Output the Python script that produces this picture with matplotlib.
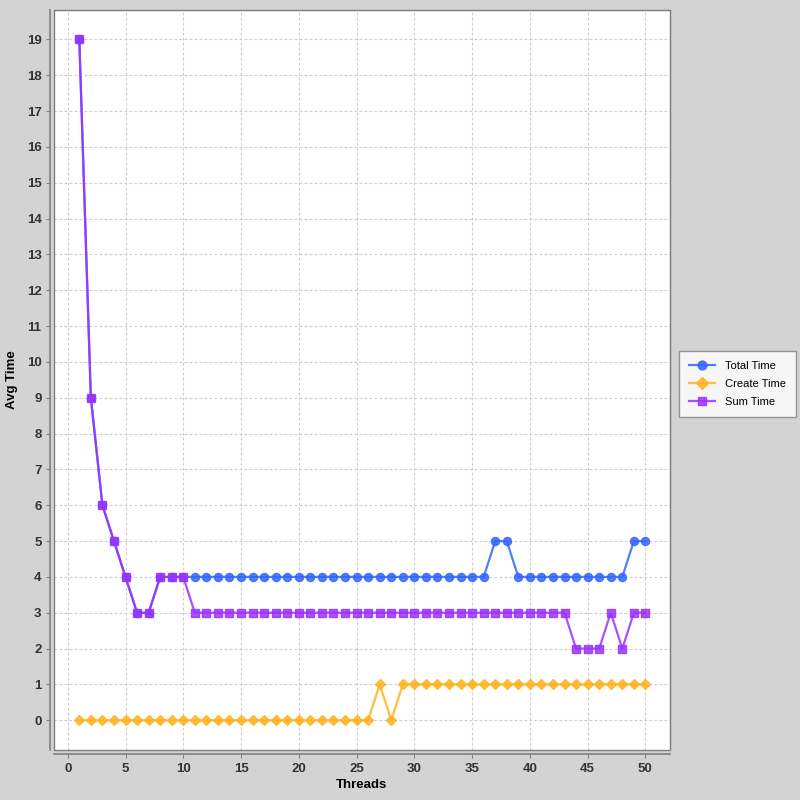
import matplotlib.pyplot as plt
from matplotlib.patches import Rectangle

plt.rcParams['font.family'] = ['Liberation Sans', 'DejaVu Sans']

threads = list(range(1, 51))
total_time = [19, 9, 6, 5, 4, 3, 3, 4, 4, 4] + [4] * 26 + [5, 5] + [4] * 10 + [5, 5]
create_time = [0] * 26 + [1, 0] + [1] * 22
sum_time = [19, 9, 6, 5, 4, 3, 3, 4, 4, 4] + [3] * 33 + [2, 2, 2, 3, 2, 3, 3]

bg = '#d3d3d3'
fig = plt.figure(figsize=(8, 8), dpi=100, facecolor=bg)
ax = fig.add_axes([0.0675, 0.0625, 0.7696, 0.925])
ax.set_facecolor('white')

ax.plot(threads, total_time, color='#3366ff', marker='o', markersize=5.8, lw=1.6,
        alpha=0.85, label='Total Time')
ax.plot(threads, create_time, color='#ffb320', marker='D', markersize=5.5, lw=1.6,
        alpha=0.85, label='Create Time')
ax.plot(threads, sum_time, color='#9933ff', marker='s', markersize=5.6, lw=1.6,
        alpha=0.85, label='Sum Time')

ax.set_xlim(-1.19, 52.1)
ax.set_ylim(-0.83, 19.82)
ax.set_xticks(range(0, 51, 5))
ax.set_yticks(range(0, 20))
ax.grid(True, color='#cccccc', linestyle=(0, (2.5, 2)), linewidth=0.8)
ax.set_axisbelow(True)

for s in ['top', 'right']:
    ax.spines[s].set_color('#808080')
for s in ['left', 'bottom']:
    ax.spines[s].set_position(('outward', 3))
    ax.spines[s].set_color('#808080')
    ax.spines[s].set_linewidth(1.2)
ax.add_patch(Rectangle((0, 0), 1, 1, transform=ax.transAxes, fill=False,
                       edgecolor='#808080', lw=1.0, clip_on=False, zorder=5))

ax.tick_params(direction='out', length=3, color='#808080', labelsize=9.5,
               labelcolor='#333333', pad=3)
for lab in ax.get_xticklabels() + ax.get_yticklabels():
    lab.set_fontweight('bold')

ax.set_xlabel('Threads', fontsize=9.5, fontweight='bold', labelpad=3)
ax.set_ylabel('Avg Time', fontsize=9.5, fontweight='bold')
ax.yaxis.set_label_coords(-0.058, 0.5)

leg = fig.legend(loc='center left', bbox_to_anchor=(0.849, 0.52), fontsize=8,
                 frameon=True, fancybox=False, edgecolor='#808080',
                 handlelength=2.3, handletextpad=0.9, borderpad=0.9,
                 labelspacing=0.7, borderaxespad=0, markerscale=1.1)
leg.get_frame().set_linewidth(1.0)

fig.savefig('out.png', facecolor=bg)
